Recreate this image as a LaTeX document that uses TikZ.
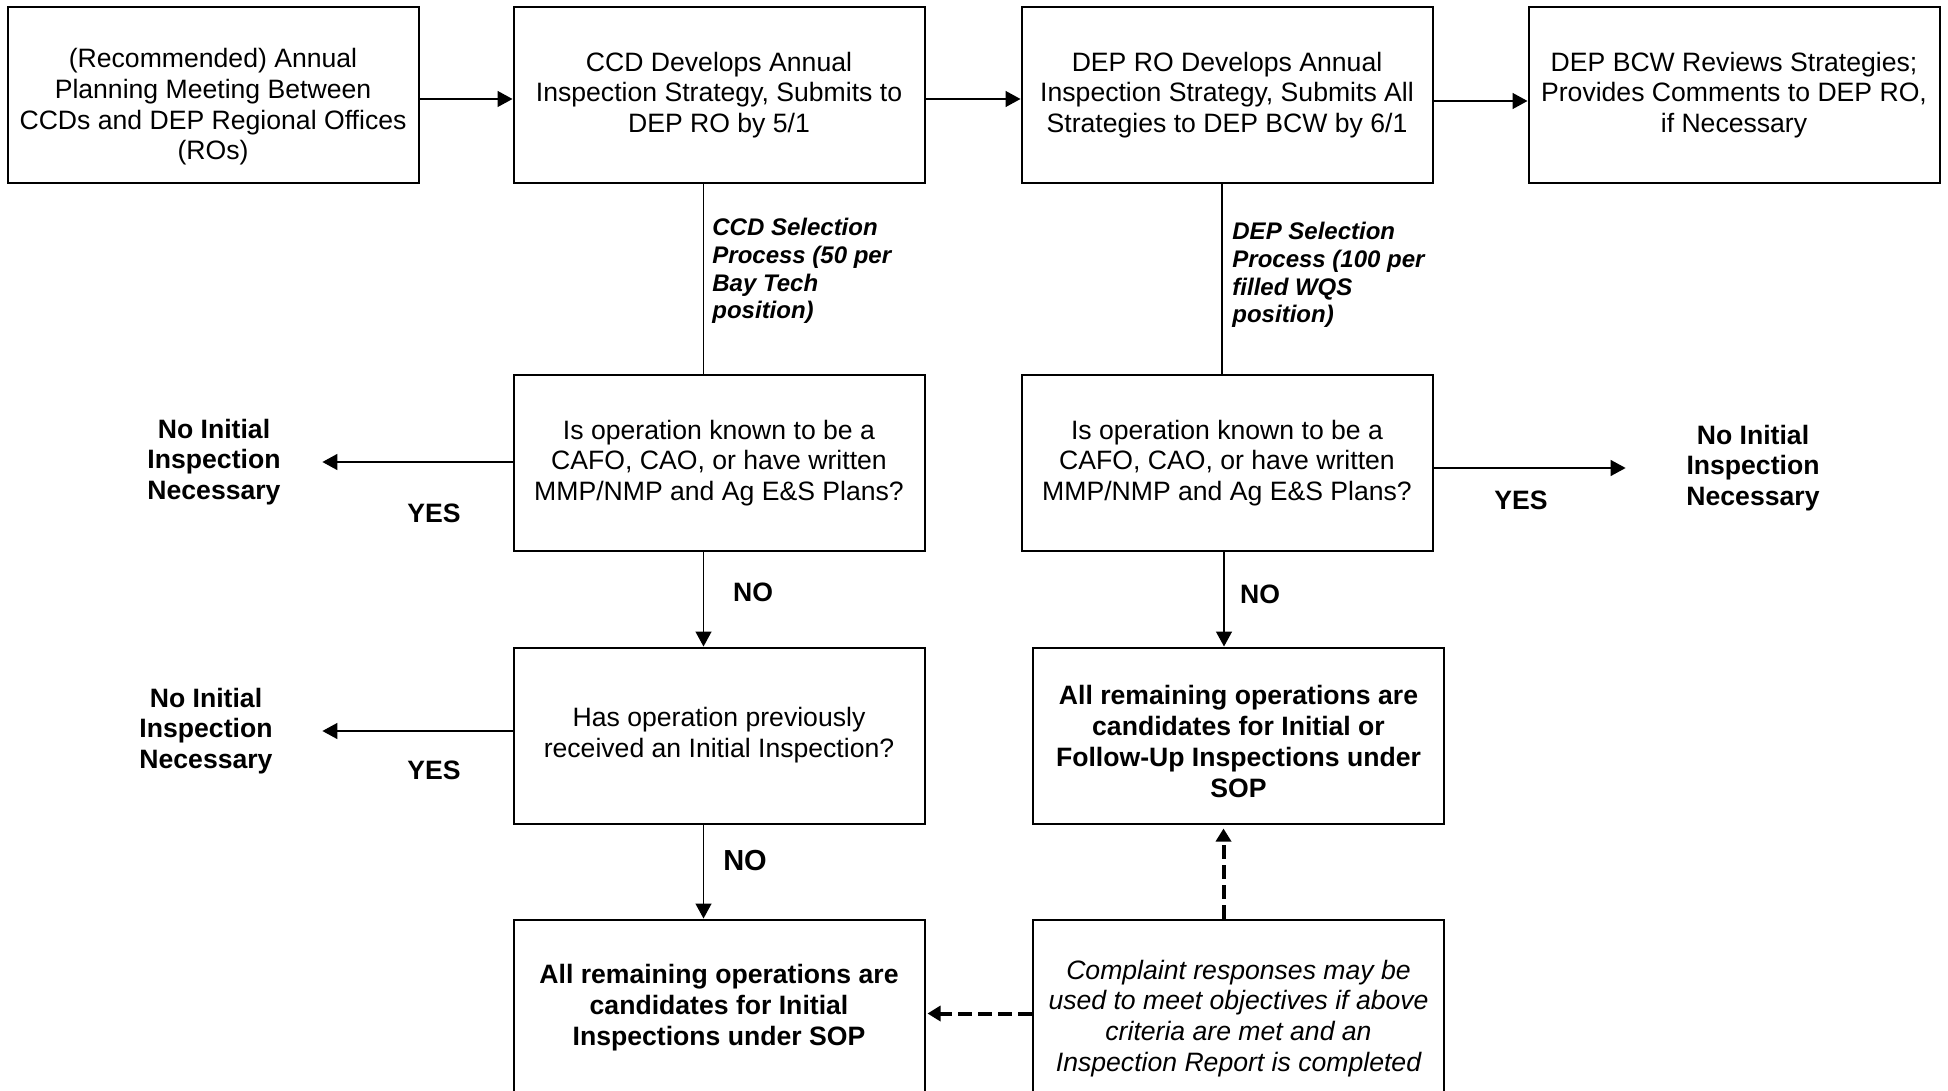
\documentclass[tikz,border=0pt]{standalone}
\usepackage{fontspec}
\setmainfont{Liberation Sans}
\usetikzlibrary{positioning,arrows.meta}

\begin{document}
\begin{tikzpicture}[x=0.5pt,y=-0.5pt,
  box/.style={draw,line width=1pt,minimum width=205.5pt,minimum height=88pt,inner sep=2pt,align=center,font=\fontsize{13.3}{15.4}\selectfont},
  arr/.style={-{Triangle[length=7.5pt,width=8pt]},line width=0.7pt},
  dasharr/.style={-{Triangle[length=6.5pt,width=7.5pt]},line width=2pt,dash pattern=on 7pt off 3pt},
  note/.style={align=center,inner sep=0pt,font=\bfseries\fontsize{13.3}{15.4}\selectfont},
  sel/.style={anchor=west,align=left,inner sep=0pt,font=\bfseries\itshape\fontsize{12}{13.85}\selectfont}]
  \useasboundingbox (0,0) rectangle (1948,1091);
  \clip (0,0) rectangle (1948,1091);

  \node[box] (plan) at (213,95) {\rule{0pt}{21.5pt}(Recommended) Annual\\Planning Meeting Between\\CCDs and DEP Regional Offices\\(ROs)};
  \node[box,right=46.5pt of plan] (ccd) {CCD Develops Annual\\Inspection Strategy, Submits to\\DEP RO by 5/1};
  \node[box,right=47.5pt of ccd] (dep) {DEP RO Develops Annual\\Inspection Strategy, Submits All\\Strategies to DEP BCW by 6/1};
  \node[box,right=47pt of dep] (bcw) {DEP BCW Reviews Strategies;\\Provides Comments to DEP RO,\\if Necessary};
  \node[box,below=95pt of ccd] (ccdq) {Is operation known to be a\\CAFO, CAO, or have written\\MMP/NMP and Ag E\&S Plans?};
  \node[box,below=95pt of dep] (depq) {Is operation known to be a\\CAFO, CAO, or have written\\MMP/NMP and Ag E\&S Plans?};
  \node[box,below=47.25pt of ccdq] (prev) {Has operation previously\\received an Initial Inspection?};
  \node[box,below=47pt of prev,font=\bfseries\fontsize{13.3}{15.4}\selectfont] (ccdcand) {All remaining operations are\\candidates for Initial\\Inspections under SOP};
  \node[box,below=47.25pt of depq,xshift=5.75pt,font=\bfseries\fontsize{13.3}{15.4}\selectfont] (depcand) {\rule{0pt}{15.5pt}All remaining operations are\\candidates for Initial or\\Follow-Up Inspections under\\SOP};
  \node[box,below=47pt of depcand,font=\itshape\fontsize{13.3}{15.4}\selectfont] (complaint) {\rule{0pt}{20.5pt}Complaint responses may be\\used to meet objectives if above\\criteria are met and an\\Inspection Report is completed};

  \node[note,minimum width=108pt] (noccd) at (214,462) {No Initial\\Inspection\\Necessary};
  \node[note,minimum width=116pt] (noprev) at (206,731) {No Initial\\Inspection\\Necessary};
  \node[note,minimum width=127pt] (nodep) at (1753,468) {No Initial\\Inspection\\Necessary};

  \node[sel] (ccdsel) at (712,271) {CCD Selection\\Process (50 per\\Bay Tech\\position)};
  \node[sel] (depsel) at (1232,275) {DEP Selection\\Process (100 per\\filled WQS\\position)};

  \node[note] (yesccd) at (434,513) {YES};
  \node[note] (yesprev) at (434,770) {YES};
  \node[note] (yesdep) at (1521,500) {YES};
  \node[note] (noq) at (753,592) {NO};
  \node[note] (nodq) at (1260,594) {NO};
  \node[note,font=\bfseries\fontsize{14.5}{17}\selectfont] (noprevq) at (745,861) {NO};

  \draw[arr] ([yshift=-2pt]plan.east) -- ([yshift=-2pt]ccd.west);
  \draw[arr] ([yshift=-2pt]ccd.east) -- ([yshift=-2pt]dep.west);
  \draw[arr] ([yshift=-3pt]dep.east) -- ([yshift=-3pt]bcw.west);
  \draw[line width=0.7pt] ([xshift=-7.75pt]ccd.south) -- ([xshift=-7.75pt]ccdq.north);
  \draw[line width=0.7pt] ([xshift=-2.5pt]dep.south) -- ([xshift=-2.5pt]depq.north);
  \draw[arr] (ccdq.west |- noccd.east) -- (noccd.east);
  \draw[arr] (prev.west |- noprev.east) -- (noprev.east);
  \draw[arr] (depq.east |- nodep.west) -- (nodep.west);
  \draw[arr] ([xshift=-7.75pt]ccdq.south) -- ([xshift=-7.75pt]prev.north);
  \draw[arr] ([xshift=-7.75pt]prev.south) -- ([xshift=-7.75pt]ccdcand.north);
  \draw[arr] ([xshift=-1.5pt]depq.south) -- ([xshift=-1.5pt]depq.south |- depcand.north);
  \draw[dasharr] ([xshift=-7.5pt]complaint.north) -- ([xshift=-7.5pt,yshift=-2pt]depcand.south);
  \draw[dasharr] ([yshift=-3pt]complaint.west) -- ([xshift=1pt,yshift=-3pt]ccdcand.east);
\end{tikzpicture}
\end{document}
